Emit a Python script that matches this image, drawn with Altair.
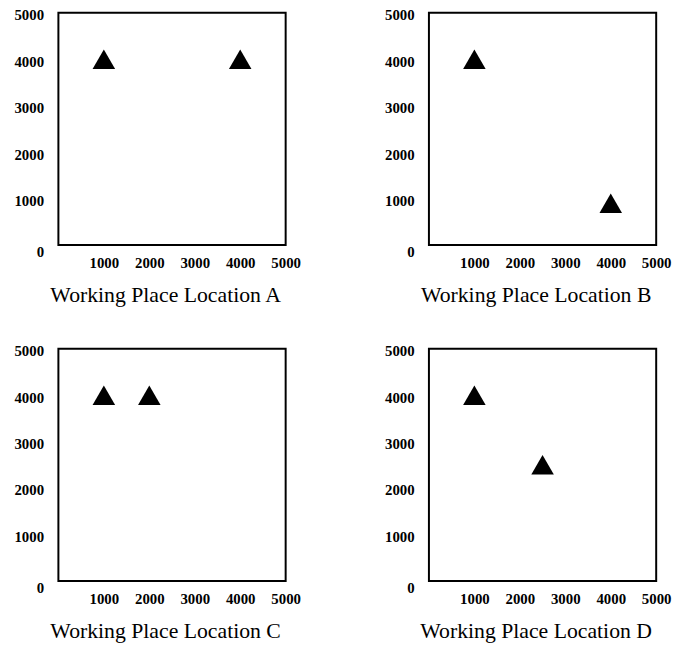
import altair as alt
import pandas as pd

panel_names = ["A", "B", "C", "D"]
x_A = [1000, 4000]
y_A = [4000, 4000]
x_B = [1000, 4000]
y_B = [4000, 900]
x_C = [1000, 2000]
y_C = [4000, 4000]
x_D = [1000, 2500]
y_D = [4000, 2500]
x_ticks = [1000, 2000, 3000, 4000, 5000]
y_ticks = [0, 1000, 2000, 3000, 4000, 5000]

xs = {"A": x_A, "B": x_B, "C": x_C, "D": x_D}
ys = {"A": y_A, "B": y_B, "C": y_C, "D": y_D}

SERIF = "Liberation Serif"


def panel(name):
    df = pd.DataFrame({"x": xs[name], "y": ys[name]})
    x_axis = alt.Axis(
        values=x_ticks,
        format="d",
        title=f"Working Place Location {name}",
        titleX=108,
        titleY=57,
        titleBaseline="alphabetic",
        titleAlign="center",
        titleFont=SERIF,
        titleFontSize=22,
        titleFontWeight="normal",
        titleColor="black",
        labelFont=SERIF,
        labelFontSize=15,
        labelFontWeight="bold",
        labelColor="black",
        labelPadding=11,
        labelFlush=False,
        labelOverlap=False,
        ticks=False,
        domain=False,
        grid=False,
    )
    y_axis = alt.Axis(
        values=y_ticks,
        format="d",
        title=None,
        labelFont=SERIF,
        labelFontSize=15,
        labelFontWeight="bold",
        labelColor="black",
        labelPadding=15,
        labelOverlap=False,
        labelOffset={"condition": {"test": "datum.value == 0", "value": 7}, "value": 2},
        ticks=False,
        domain=False,
        grid=False,
    )
    return (
        alt.Chart(df)
        .mark_point(shape="triangle-up", filled=True, color="black", opacity=1, size=520)
        .encode(
            x=alt.X("x:Q", scale=alt.Scale(domain=[0, 5000], nice=False, zero=True), axis=x_axis),
            y=alt.Y("y:Q", scale=alt.Scale(domain=[0, 5000], nice=False, zero=True), axis=y_axis),
        )
        .properties(width=230, height=235)
    )


chart = (
    alt.concat(*[panel(n) for n in panel_names], columns=2)
    .properties(
        spacing={"row": 105, "column": 145},
        bounds="flush",
        padding={"left": 5, "top": -5, "right": 0, "bottom": 0},
        background="white",
    )
    .configure_view(stroke="black", strokeWidth=2)
)

chart.save("out.html", embed_options={"renderer": "svg", "actions": False})
